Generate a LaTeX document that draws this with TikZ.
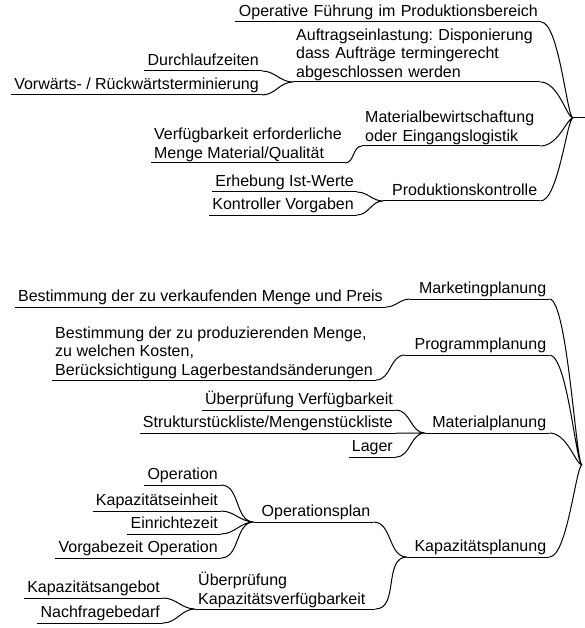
\documentclass[tikz,border=0pt]{standalone}
\usepackage{fontspec}
\setmainfont{Liberation Sans}
\frenchspacing
\tikzset{
lines/.style={inner xsep=3pt, inner ysep=1pt, align=left, font=\fontsize{16}{18.5}\selectfont}, % text block that sits on its underline
topic/.style={lines, text depth=4pt}, % one line of text, same depth everywhere
under/.style={line width=1pt}, % the underline itself
link/.style={line width=1pt, out=0, in=180}, % s-curve from one underline to the next
hublink/.style={link, out distance=18pt, in distance=6pt}, % long curve into the centre point
}

\begin{document}
\begin{tikzpicture}[x=1pt, y=-1pt]
    \useasboundingbox (0,0) rectangle (585,628);
    % upper map
    \coordinate (hubA) at (573,118);
    \coordinate (rootA) at (586,118);
    \node[topic, anchor=south east, text width=300pt, align=right] (opf) at (541,22) {Operative Führung im Produktionsbereich};
    \node[lines, anchor=south west, text width=241pt] (auf) at (293,82) {Auftragseinlastung: Disponierung\\dass Aufträge termingerecht\\abgeschlossen werden};
    \node[topic, anchor=south east] (dlz) at (262,71) {Durchlaufzeiten};
    \node[topic, anchor=south east] (vrt) at (262,95) {Vorwärts- / Rückwärtsterminierung};
    \node[lines, anchor=south west, text width=172pt] (mat) at (362,146) {Materialbewirtschaftung\\oder Eingangslogistik};
    \node[lines, anchor=south east] (vfg) at (345,163) {Verfügbarkeit erforderliche\\Menge Material/Qualität};
    \node[topic, anchor=south west, text width=151pt, align=right] (pk) at (383,201) {Produktionskontrolle};
    \node[topic, anchor=south east] (eiw) at (357,192) {Erhebung Ist-Werte};
    \node[topic, anchor=south east] (kvg) at (357,215) {Kontroller Vorgaben};
    % lower map
    \coordinate (hubB) at (582,465);
    \node[topic, anchor=south west, text width=133pt, align=right] (mkt) at (410,299) {Marketingplanung};
    \node[topic, anchor=south east] (bmp) at (386,307) {Bestimmung der zu verkaufenden Menge und Preis};
    \node[topic, anchor=south west, text width=138pt, align=right] (prg) at (405,355) {Programmplanung};
    \node[lines, anchor=south east] (bpm) at (376,380) {Bestimmung der zu produzierenden Menge,\\zu welchen Kosten,\\Berücksichtigung Lagerbestandsänderungen};
    \node[topic, anchor=south west, text width=118pt, align=right] (mtp) at (425,433) {Materialplanung};
    \node[topic, anchor=south east] (uvf) at (396,410) {Überprüfung Verfügbarkeit};
    \node[topic, anchor=south east] (sml) at (396,433) {Strukturstückliste/Mengenstückliste};
    \node[topic, anchor=south east] (lag) at (396,457) {Lager};
    \node[topic, anchor=south west, text width=136pt, align=right] (kap) at (407,557) {Kapazitätsplanung};
    \node[topic, anchor=south west, text width=113pt, align=right] (ops) at (254,522) {Operationsplan};
    \node[topic, anchor=south east] (opn) at (221,485) {Operation};
    \node[topic, anchor=south east] (kpe) at (221,511) {Kapazitätseinheit};
    \node[topic, anchor=south east] (ein) at (221,534) {Einrichtezeit};
    \node[topic, anchor=south east] (vgz) at (221,558) {Vorgabezeit Operation};
    \node[lines, anchor=south west, text width=174pt] (ukv) at (195,609) {Überprüfung\\Kapazitätsverfügbarkeit};
    \node[topic, anchor=south east] (kpa) at (163,598) {Kapazitätsangebot};
    \node[topic, anchor=south east] (nfb) at (163,623) {Nachfragebedarf};
    % underlines
    \draw[under] (opf.south west) -- (opf.south east)
    (auf.south west) -- (auf.south east)
    (dlz.south west) -- (dlz.south east)
    (vrt.south west) -- (vrt.south east)
    (mat.south west) -- (mat.south east)
    (vfg.south west) -- (vfg.south east)
    (pk.south west) -- (pk.south east)
    (eiw.south west) -- (eiw.south east)
    (kvg.south west) -- (kvg.south east)
    (mkt.south west) -- (mkt.south east)
    (bmp.south west) -- (bmp.south east)
    (prg.south west) -- (prg.south east)
    (bpm.south west) -- (bpm.south east)
    (mtp.south west) -- (mtp.south east)
    (uvf.south west) -- (uvf.south east)
    (sml.south west) -- (sml.south east)
    (lag.south west) -- (lag.south east)
    (kap.south west) -- (kap.south east)
    (ops.south west) -- (ops.south east)
    (opn.south west) -- (opn.south east)
    (kpe.south west) -- (kpe.south east)
    (ein.south west) -- (ein.south east)
    (vgz.south west) -- (vgz.south east)
    (ukv.south west) -- (ukv.south east)
    (kpa.south west) -- (kpa.south east)
    (nfb.south west) -- (nfb.south east);
    % branches into the centres
    \draw[hublink] (opf.south east) to (hubA)
    (auf.south east) to (hubA)
    (mat.south east) to (hubA)
    (pk.south east) to (hubA);
    \draw[under] (hubA) -- (rootA);
    \draw[hublink] (mkt.south east) to (hubB)
    (prg.south east) to (hubB)
    (mtp.south east) to (hubB)
    (kap.south east) to (hubB);
    % sub-branches
    \draw[link] (dlz.south east) to (auf.south west)
    (vrt.south east) to (auf.south west)
    (vfg.south east) to (mat.south west)
    (eiw.south east) to (pk.south west)
    (kvg.south east) to (pk.south west)
    (bmp.south east) to (mkt.south west)
    (bpm.south east) to (prg.south west)
    (uvf.south east) to (mtp.south west)
    (sml.south east) to (mtp.south west)
    (lag.south east) to (mtp.south west)
    (ops.south east) to (kap.south west)
    (ukv.south east) to (kap.south west)
    (opn.south east) to (ops.south west)
    (kpe.south east) to (ops.south west)
    (ein.south east) to (ops.south west)
    (vgz.south east) to (ops.south west)
    (kpa.south east) to (ukv.south west)
    (nfb.south east) to (ukv.south west);
\end{tikzpicture}
\end{document}
